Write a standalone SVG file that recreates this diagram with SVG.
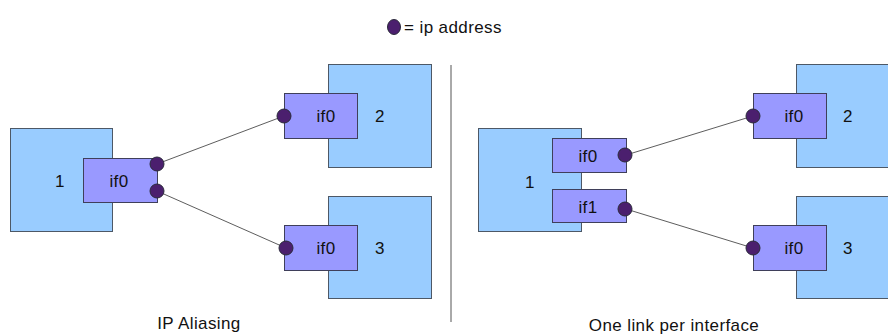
<svg xmlns="http://www.w3.org/2000/svg" width="888" height="336" viewBox="0 0 888 336">
<style>
.host{fill:#99CCFF;stroke:#4d5866;stroke-width:1}
.ifc{fill:#9999FF;stroke:#3f3f5a;stroke-width:1}
.ip{fill:#4B1F6E;stroke:#2a2a3a;stroke-width:1}
.t{font-family:"Liberation Sans",Arial,sans-serif;font-size:17px;fill:#111;letter-spacing:0.4px}
.c{text-anchor:middle}
.link{stroke:#333;stroke-width:0.8;fill:none}
</style>
<rect width="888" height="336" fill="#fff"/>
<g id="legend">
<ellipse class="ip" cx="394" cy="27" rx="6.5" ry="7.5"/>
<text class="t" x="404" y="33">= ip address</text>
</g>
<g id="divider"><line x1="451" y1="65" x2="451" y2="322" stroke="#555" stroke-width="1"/></g>
<g id="connectors">
<line class="link" x1="157" y1="164" x2="284" y2="116"/>
<line class="link" x1="157" y1="191" x2="286" y2="248"/>
<line class="link" x1="626" y1="155" x2="753" y2="116"/>
<line class="link" x1="626" y1="209" x2="753" y2="248"/>
</g>
<g id="L-host1">
<rect class="host" x="10.5" y="128.5" width="102" height="103"/>
<text class="t c" x="60" y="187">1</text>
</g>
<g id="L-host1-if0">
<rect class="ifc" x="83.5" y="158.5" width="74" height="44"/>
<text class="t c" x="119" y="187">if0</text>
<circle class="ip" cx="157" cy="164" r="7"/>
<circle class="ip" cx="157" cy="191" r="7"/>
</g>
<g id="L-host2">
<rect class="host" x="328.5" y="64.5" width="103" height="103"/>
<text class="t c" x="380" y="122">2</text>
</g>
<g id="L-host2-if0">
<rect class="ifc" x="284.5" y="93.5" width="73" height="45"/>
<text class="t c" x="326" y="122">if0</text>
<circle class="ip" cx="284" cy="116" r="7"/>
</g>
<g id="L-host3">
<rect class="host" x="328.5" y="196.5" width="103" height="102"/>
<text class="t c" x="380" y="254">3</text>
</g>
<g id="L-host3-if0">
<rect class="ifc" x="284.5" y="225.5" width="73" height="45"/>
<text class="t c" x="326" y="254">if0</text>
<circle class="ip" cx="286" cy="248" r="7"/>
</g>
<g id="R-host1">
<rect class="host" x="478.5" y="128.5" width="103" height="103"/>
<text class="t c" x="530" y="188">1</text>
</g>
<g id="R-host1-if0">
<rect class="ifc" x="552.5" y="138.5" width="74" height="34"/>
<text class="t c" x="588" y="162">if0</text>
<circle class="ip" cx="625" cy="155" r="7"/>
</g>
<g id="R-host1-if1">
<rect class="ifc" x="552.5" y="189.5" width="74" height="33"/>
<text class="t c" x="588" y="213">if1</text>
<circle class="ip" cx="625" cy="209" r="7"/>
</g>
<g id="R-host2">
<rect class="host" x="796.5" y="64.5" width="103" height="103"/>
<text class="t c" x="848" y="122">2</text>
</g>
<g id="R-host2-if0">
<rect class="ifc" x="753.5" y="93.5" width="73" height="45"/>
<text class="t c" x="794" y="122">if0</text>
<circle class="ip" cx="753" cy="116" r="7"/>
</g>
<g id="R-host3">
<rect class="host" x="796.5" y="196.5" width="103" height="102"/>
<text class="t c" x="848" y="254">3</text>
</g>
<g id="R-host3-if0">
<rect class="ifc" x="753.5" y="225.5" width="73" height="45"/>
<text class="t c" x="794" y="254">if0</text>
<circle class="ip" cx="753" cy="248" r="7"/>
</g>
<g id="captions">
<text class="t c" x="199" y="329">IP Aliasing</text>
<text class="t c" x="674" y="331">One link per interface</text>
</g>
</svg>
